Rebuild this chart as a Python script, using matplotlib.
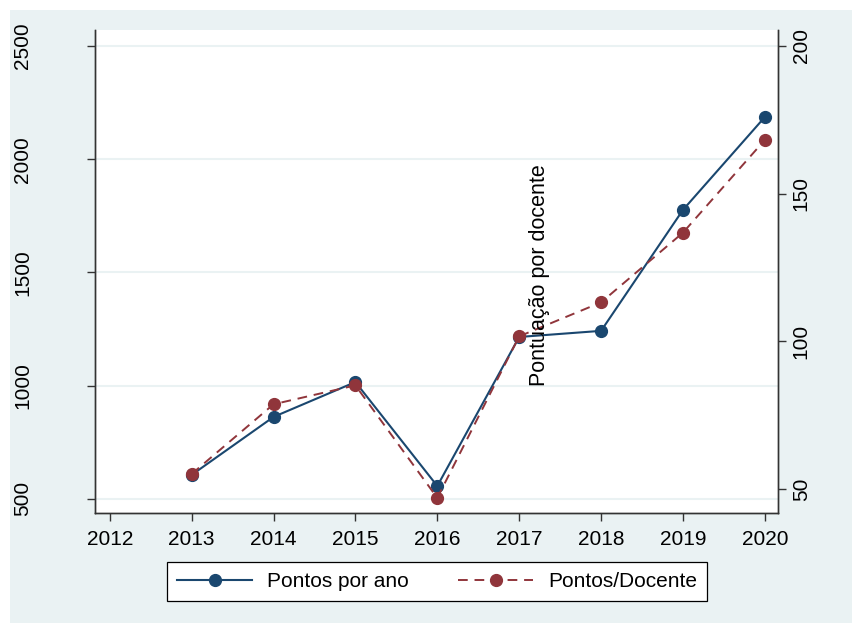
import matplotlib
matplotlib.use("Agg")
import matplotlib.pyplot as plt
from matplotlib.patches import Rectangle

plt.rcParams['font.family'] = ['Liberation Sans', 'DejaVu Sans']

# data
anos = [2013, 2014, 2015, 2016, 2017, 2018, 2019, 2020]
pontos_ano = [606, 862, 1016, 557, 1215, 1242, 1776, 2186]
pontos_docente = [55.1, 78.7, 85.1, 47.0, 101.7, 113.2, 136.8, 168.2]
xticks = [2012, 2013, 2014, 2015, 2016, 2017, 2018, 2019, 2020]
yticks_esq = [500, 1000, 1500, 2000, 2500]
yticks_dir = [50, 100, 150, 200]

azul = '#1a476f'
vinho = '#90353b'
fundo = '#eaf2f3'
fs = 15

fig = plt.figure(figsize=(8.52, 6.23), dpi=100)
# background panel, leaving a thin white strip on top and left
fundo_rect = Rectangle((10 / 852, 0), 1, 1 - 10 / 623, transform=fig.transFigure,
                       facecolor=fundo, edgecolor='none', zorder=-10)
fig.add_artist(fundo_rect)

ax = fig.add_axes([0.1115, 0.1766, 0.8016, 0.7752])
ax.set_facecolor('white')
ax2 = ax.twinx()

l1, = ax.plot(anos, pontos_ano, color=azul, lw=1.5, marker='o', ms=8.5, zorder=3,
              label='Pontos por ano')
l2, = ax2.plot(anos, pontos_docente, color=vinho, lw=1.4, ls=(0, (5, 3.5)), marker='o',
               ms=8.5, zorder=3, label='Pontos/Docente')

ax.set_xlim(2011.82, 2020.16)
ax.set_ylim(438, 2570)
ax2.set_ylim(41.9, 205.4)

ax.set_xticks(xticks)
ax.set_yticks(yticks_esq)
ax2.set_yticks(yticks_dir)
ax.set_yticklabels([str(v) for v in yticks_esq], rotation=90, va='center')
ax2.set_yticklabels([str(v) for v in yticks_dir], rotation=90, va='center')

ax.grid(axis='y', color=fundo, lw=1.5)
ax.set_axisbelow(True)

for a in (ax, ax2):
    a.spines['top'].set_visible(False)
    for s in ('left', 'right', 'bottom'):
        a.spines[s].set_color('#333333')
        a.spines[s].set_linewidth(1.0)

ax.tick_params(axis='x', labelsize=fs, length=6, width=1, color='#333333', pad=6)
ax.tick_params(axis='y', labelsize=fs, length=6, width=1, color='#333333', pad=39)
ax2.tick_params(axis='y', labelsize=fs, length=6, width=1, color='#333333', pad=4)

fig.text(540 / 852, 1 - 275 / 623, 'Pontuação por docente', rotation=90,
         ha='center', va='center', fontsize=15.5)

leg = fig.legend(handles=[l1, l2], loc='center', bbox_to_anchor=(0.513, 0.0666),
                 ncol=2, fontsize=15, frameon=True, fancybox=False, framealpha=1,
                 handlelength=3.6, columnspacing=2.4, handletextpad=0.7, borderpad=0.5)
leg.get_frame().set_edgecolor('black')
leg.get_frame().set_linewidth(0.9)

fig.savefig('out.png', dpi=100)
